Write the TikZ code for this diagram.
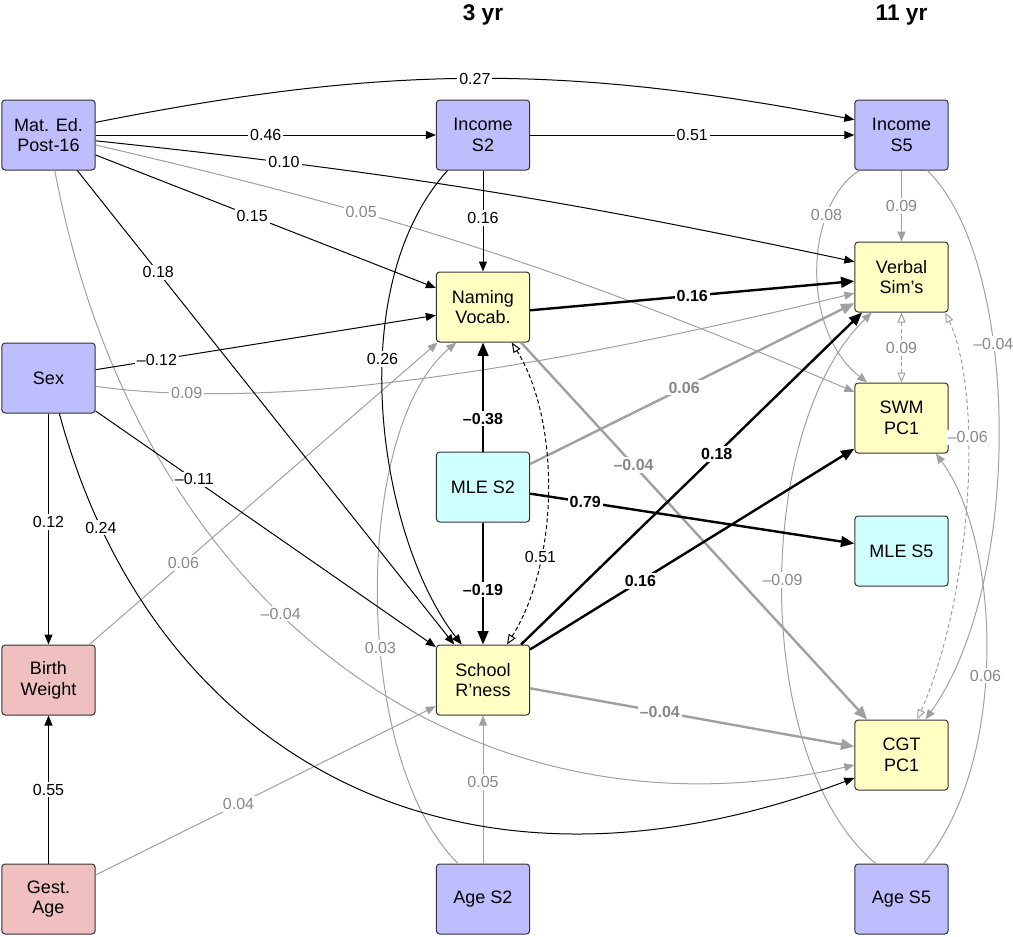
\documentclass[tikz,border=0pt]{standalone}
\usepackage{fontspec}
\setmainfont{Liberation Sans}
\usetikzlibrary{arrows.meta}
\definecolor{famblue}{RGB}{190,190,255}
\definecolor{outyellow}{RGB}{255,255,196}
\definecolor{mlecyan}{RGB}{208,255,255}
\definecolor{birthpink}{RGB}{240,192,192}
\definecolor{boxline}{RGB}{50,50,50}
\definecolor{linegray}{RGB}{160,160,160}
\definecolor{labelgray}{RGB}{136,136,136}
\newcommand\boxfont{\fontsize{13.5pt}{15.5pt}\selectfont}
\newcommand\coeffont{\fontsize{12pt}{14pt}\selectfont}
\tikzstyle{measure} = [
    rectangle, draw=boxline, line width=0.75pt, rounded corners=2.5pt,
    minimum width=70pt, minimum height=52.5pt, % same size for every box
    align=center, font=\boxfont
]
\tikzstyle{family} = [measure, fill=famblue]
\tikzstyle{outcome} = [measure, fill=outyellow]
\tikzstyle{mle} = [measure, fill=mlecyan]
\tikzstyle{perinatal} = [measure, fill=birthpink]
\tikzstyle{link} = [line width=0.75pt, -{Triangle[length=7.5pt,width=6pt]}]
\tikzstyle{strong} = [line width=1.8pt, -{Triangle[length=10pt,width=8pt]}]
\tikzstyle{faint} = [link, draw=linegray]
\tikzstyle{faintstrong} = [strong, draw=linegray]
\tikzstyle{corr} = [line width=0.75pt, dash pattern=on 3pt off 2pt,
    {Triangle[open,length=7.5pt,width=6pt]}-{Triangle[open,length=7.5pt,width=6pt]}]
\tikzstyle{faintcorr} = [corr, draw=linegray]
\tikzstyle{coef} = [fill=white, inner sep=1.5pt, font=\coeffont]
\tikzstyle{coefb} = [coef, font=\coeffont\bfseries]
\tikzstyle{coefg} = [coef, text=labelgray]
\tikzstyle{coefgb} = [coefb, text=labelgray]
\tikzstyle{title} = [font=\fontsize{17pt}{19pt}\selectfont\bfseries]

\begin{document}
\begin{tikzpicture}[x=0.75pt, y=0.75pt]
        \useasboundingbox (0,0) rectangle (1013,-936);

        % Column headings
        \node[title] (head3) at (483,-15) {3 yr};
        \node[title] (head11) at (901.5,-15) {11 yr};

        % Family and background measures
        \node[family] (matEd) at (48.5,-135) {Mat. Ed.\\Post-16};
        \node[family] (incS2) at (483,-135) {Income\\S2};
        \node[family] (incS5) at (901.5,-135) {Income\\S5};
        \node[family] (sex) at (48.5,-378) {Sex};
        \node[perinatal] (birthWt) at (48.5,-680) {Birth\\Weight};
        \node[perinatal] (gestAge) at (48.5,-899) {Gest.\\Age};
        \node[family] (ageS2) at (483,-899) {Age S2};
        \node[family] (ageS5) at (901.5,-899) {Age S5};

        % Outcomes
        \node[outcome] (naming) at (483,-307) {Naming\\Vocab.};
        \node[outcome] (school) at (483,-680) {School\\R’ness};
        \node[outcome] (verbal) at (901.5,-277) {Verbal\\Sim’s};
        \node[outcome] (swm) at (901.5,-418) {SWM\\PC1};
        \node[outcome] (cgt) at (901.5,-755) {CGT\\PC1};

        % Media use
        \node[mle] (mleS2) at (483,-487) {MLE S2};
        \node[mle] (mleS5) at (901.5,-551) {MLE S5};

        % Weak paths (grey)
        \draw[faint] (matEd.-12) to[bend left=5] node[coefg, pos=0.33] {0.05} (swm.151);
        \draw[faint] (matEd.-80) .. controls (140,-620) and (480,-850) .. node[coefg, pos=0.42] {--0.04} (cgt.192);
        \draw[faint] (sex.-10) .. controls (300,-415) and (600,-355) .. node[coefg, pos=0.14] {0.09} (verbal.199);
        \draw[faint] (birthWt.41) -- node[coefg, pos=0.27] {0.06} (naming.218);
        \draw[faint] (gestAge.27) -- node[coefg, pos=0.42] {0.04} (school.209);
        \draw[faint] (ageS2.125) .. controls (352,-760) and (352,-430) .. node[coefg, pos=0.42] {0.03} (naming.233);
        \draw[faint] (ageS2.north) -- node[coefg, pos=0.55] {0.05} (school.south);
        \draw[faint] (incS5.south) -- node[coefg] {0.09} (verbal.north);
        \draw[faint] (incS5.220) .. controls (805,-205) and (800,-330) .. node[coefg, pos=0.27] {0.08} (swm.134);
        \draw[faint] (incS5.-54) .. controls (1020,-260) and (1025,-580) .. node[coefg, pos=0.37] {--0.04} (cgt.56);
        \draw[faint] (ageS5.126) .. controls (752,-760) and (752,-430) .. node[coefg, pos=0.52] {--0.09} (verbal.230);
        \draw[faint] (ageS5.58) .. controls (1010,-760) and (1000,-540) .. node[coefg, pos=0.45] {0.06} (swm.-46);
        \draw[faintcorr] (verbal.south) -- node[coefg] {0.09} (swm.north);
        \draw[faintcorr] (verbal.-39) .. controls (985,-400) and (970,-600) .. node[coefg, pos=0.35] {--0.06} (cgt.66);
        \draw[faintstrong] (mleS2.26) -- node[coefgb, pos=0.475] {0.06} (verbal.209);
        \draw[faintstrong] (naming.-43) -- node[coefgb, pos=0.325] {--0.04} (cgt.134);
        \draw[faintstrong] (school.-10) -- node[coefgb, pos=0.4] {--0.04} (cgt.170);

        % Paths
        \draw[link] (matEd.east) -- node[coef] {0.46} (incS2.west);
        \draw[link] (incS2.east) -- node[coef] {0.51} (incS5.west);
        \draw[link] (matEd.15) to[bend left=11] node[coef] {0.27} (incS5.162);
        \draw[link] (matEd.-7) to[bend left=3] node[coef, pos=0.23] {0.10} (verbal.162);
        \draw[link] (matEd.-23) -- node[coef, pos=0.46] {0.15} (naming.158);
        \draw[link] (matEd.-51) -- node[coef, pos=0.215] {0.18} (school.129);
        \draw[link] (sex.10) -- node[coef, pos=0.18] {--0.12} (naming.190);
        \draw[link] (sex.-35) -- node[coef, pos=0.29] {--0.11} (school.145);
        \draw[link] (sex.south) -- node[coef, pos=0.47] {0.12} (birthWt.north);
        \draw[link] (gestAge.north) -- node[coef] {0.55} (birthWt.south);
        \draw[link] (sex.-73) .. controls (150,-750) and (450,-930) .. node[coef, pos=0.12] {0.24} (cgt.206);
        \draw[link] (incS2.south) -- node[coef, pos=0.47] {0.16} (naming.north);
        \draw[link] (incS2.-135) .. controls (340,-290) and (380,-540) .. node[coef, pos=0.4] {0.26} (school.121);
        \draw[corr] (school.56) .. controls (560,-560) and (560,-420) .. node[coef, pos=0.3] {0.51} (naming.-51);

        % Strong paths
        \draw[strong] (naming.-4) -- node[coefb] {0.16} (verbal.185);
        \draw[strong] (mleS2.north) -- node[coefb, pos=0.3] {--0.38} (naming.south);
        \draw[strong] (mleS2.south) -- node[coefb, pos=0.55] {--0.19} (school.north);
        \draw[strong] (mleS2.-8) -- node[coefb, pos=0.17] {0.79} (mleS5.171);
        \draw[strong] (school.43) -- node[coefb, pos=0.574] {0.18} (verbal.222);
        \draw[strong] (school.33) -- node[coefb, pos=0.34] {0.16} (swm.213);

    \end{tikzpicture}
\end{document}
